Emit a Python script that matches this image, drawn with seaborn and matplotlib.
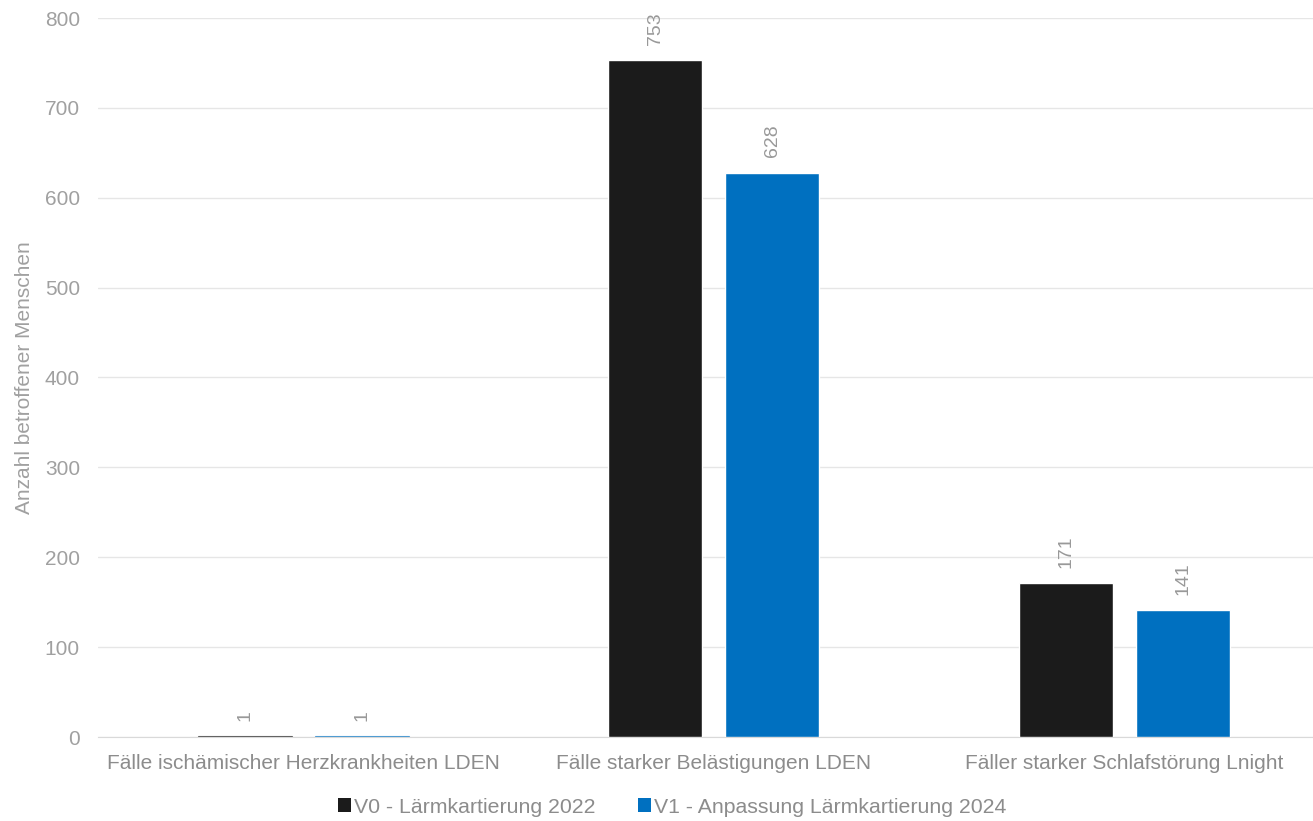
import pandas as pd
import matplotlib
matplotlib.use("Agg")
import matplotlib.pyplot as plt
import seaborn as sns
from matplotlib.patches import Patch

# Data
categories = [
    "Fälle ischämischer Herzkrankheiten LDEN",
    "Fälle starker Belästigungen LDEN",
    "Fäller starker Schlafstörung Lnight",
]
series_names = ["V0 - Lärmkartierung 2022", "V1 - Anpassung Lärmkartierung 2024"]
v0_values = [1, 753, 171]
v1_values = [1, 628, 141]
colors = ["#1b1b1b", "#0070c0"]

df = pd.DataFrame({
    "Kategorie": categories * 2,
    "Variante": [series_names[0]] * 3 + [series_names[1]] * 3,
    "Anzahl": v0_values + v1_values,
})

sns.set_style("white")
plt.rcParams["font.family"] = ["Liberation Sans", "DejaVu Sans"]

fig = plt.figure(figsize=(13.13, 8.21), dpi=100)
ax = fig.add_axes([98 / 1313, 84 / 821, 1231.5 / 1313, 719 / 821])

sns.barplot(data=df, x="Kategorie", y="Anzahl", hue="Variante",
            palette=colors, width=0.57, gap=0.2, ax=ax, legend=False,
            saturation=1)

for container in ax.containers:
    for bar in container:
        bar.set_zorder(3)
        # very small bars: draw a thin outline so they show up as a line
        if bar.get_height() < 5:
            bar.set_edgecolor(bar.get_facecolor())
            bar.set_linewidth(0.8)
            bar.set_alpha(0.55)
    ax.bar_label(container, labels=[str(int(v)) for v in container.datavalues],
                 rotation=90, padding=11, color="#999999", fontsize=14)

ax.set_ylim(0, 800)
ax.set_xlim(-0.5, 2.5)
ax.set_yticks(range(0, 801, 100))
ax.yaxis.grid(True, color="#e6e6e6", linewidth=1)
ax.set_axisbelow(True)
for side in ["top", "right", "left"]:
    ax.spines[side].set_visible(False)
ax.spines["bottom"].set_color("#d9d9d9")
ax.spines["bottom"].set_zorder(1)
ax.tick_params(axis="both", length=0, labelsize=15, colors="#a0a0a0", pad=13)
ax.tick_params(axis="x", colors="#8c8c8c", pad=12)
ax.set_xlabel("")
ax.set_ylabel("Anzahl betroffener Menschen", fontsize=15, color="#a0a0a0", labelpad=8)

handles = [Patch(facecolor=c, edgecolor="none") for c in colors]
fig.legend(handles, series_names, loc="center", bbox_to_anchor=(0.512, 1 - 807 / 821),
           ncol=2, frameon=False, fontsize=15.3, labelcolor="#8c8c8c",
           handlelength=0.6, handleheight=0.6, handletextpad=0.15, columnspacing=2.0)

fig.savefig("out.png", dpi=100)
